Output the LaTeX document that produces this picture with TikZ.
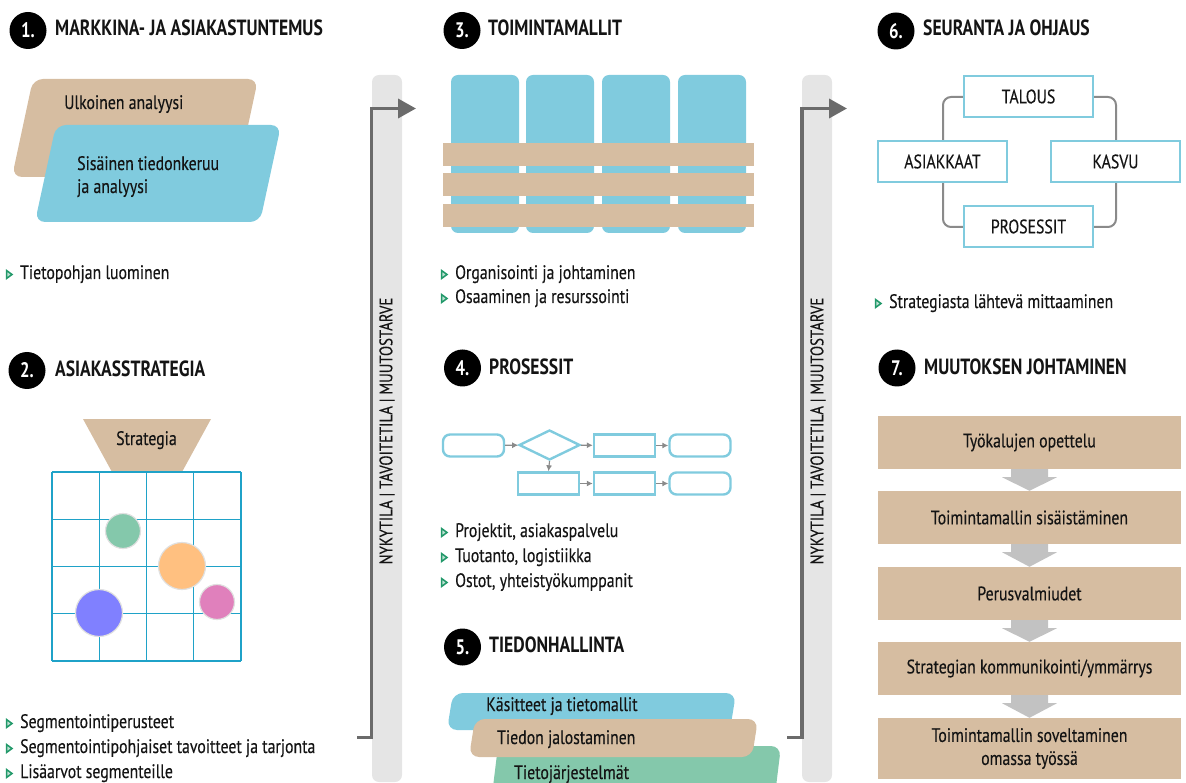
\documentclass[tikz,border=0pt]{standalone}
\usepackage{fontspec}
\setmainfont{PT Sans}[FakeStretch=0.81, UprightFeatures={FakeBold=0.25}, BoldFeatures={FakeStretch=0.80}]
\usetikzlibrary{arrows.meta,shapes.geometric,calc}

\definecolor{tan}{HTML}{D6BDA1}
\definecolor{sky}{HTML}{80CBDE}
\definecolor{mint}{HTML}{84C8AB}
\definecolor{peach}{HTML}{FFC080}
\definecolor{rose}{HTML}{E080BC}
\definecolor{violet}{HTML}{8080FF}
\definecolor{gridblue}{HTML}{1FA2C8}
\definecolor{barbg}{HTML}{E5E5E5}
\definecolor{darkarrow}{HTML}{6B6B6B}
\definecolor{blockgray}{HTML}{C2C2C2}
\definecolor{bulgreen}{HTML}{22996A}
\definecolor{flowgray}{HTML}{8A8A8A}
\definecolor{ink}{HTML}{141414}

\begin{document}
\begin{tikzpicture}[x=1pt,y=-1pt,
  badge/.style={circle, fill=black, minimum size=37pt, inner sep=0pt, text=white,
    font=\fontsize{21}{21}\selectfont\bfseries},
  head/.style={anchor=base west, inner sep=0pt, text=ink,
    font=\fontsize{22}{25}\selectfont\bfseries},
  body/.style={text=ink, font=\fontsize{19.5}{23}\selectfont},
  bulmark/.style={isosceles triangle, isosceles triangle stretches,
    minimum width=8pt, minimum height=5.5pt, inner sep=0pt,
    draw=bulgreen, line width=1.5pt, fill=bulgreen!30, label distance=6pt},
  item/.style={body, anchor=base west, inner sep=0pt, text height=13pt, text depth=4pt,
    label={[bulmark]left:{}}},
  plain/.style={body, anchor=base west, inner sep=0pt},
  seg/.style={circle, inner sep=0pt, minimum size=#1, draw=black!12, line width=1.2pt},
  flowbox/.style={draw=sky, line width=2.4pt, minimum width=61pt, minimum height=22pt, inner sep=0pt},
  flowround/.style={flowbox, rounded corners=7pt},
  flowdia/.style={diamond, draw=sky, line width=2.4pt, minimum width=61pt, minimum height=30pt, inner sep=0pt},
  flowarrow/.style={draw=flowgray, line width=1.1pt, -{Latex[length=6pt,width=6pt]}},
  kpi/.style={body, draw=sky, line width=2.4pt, fill=white, minimum width=129pt, minimum height=41pt, inner sep=0pt},
  stepbox/.style={body, fill=tan, minimum width=303pt, minimum height=53pt, inner sep=0pt, align=center},
  bigarrow/.style={draw=darkarrow, line width=3.6pt, -{Triangle[length=18pt,width=19pt]}},
  sidebar/.style={fill=barbg, rounded corners=7pt},
  vlabel/.style={body, rotate=90, font=\fontsize{18.3}{20}\selectfont}
]
\useasboundingbox (0,0) rectangle (1186,783);

% ---------- side bars with the state arrows ----------
\fill[sidebar] (372,75) rectangle (402,782);
\fill[sidebar] (802,75) rectangle (832,782);
\coordinate (ls) at (357,737.5);
\coordinate (le) at (416,108.5);
\coordinate (rs) at (787,737.5);
\coordinate (re) at (847,108.5);
\draw[bigarrow] (ls) -- ++(14.5,0) |- (le);
\draw[bigarrow] (rs) -- ++(15,0) |- (re);
\node[vlabel] (lv) at (387,431) {NYKYTILA | TAVOITETILA | MUUTOSTARVE};
\node[vlabel] (rv) at (818,431) {NYKYTILA | TAVOITETILA | MUUTOSTARVE};

% ---------- 1. market and customer knowledge ----------
\node[badge] (b1) at (28,30.5) {1.};
\node[head] (h1) at (55,36) {MARKKINA- JA ASIAKASTUNTEMUS};
\fill[tan, rounded corners=10pt] (12,177) -- (33,79) -- (258,79) -- (237,177) -- cycle;
\fill[sky, rounded corners=10pt] (35,222) -- (56,125) -- (281,125) -- (260,222) -- cycle;
\node[plain] (t11) at (64,109) {Ulkoinen analyysi};
\node[plain] (t12) at (77,170) {Sisäinen tiedonkeruu};
\node[plain] (t13) at (77,193) {ja analyysi};
\node[item] (i11) at (20,279) {Tietopohjan luominen};

% ---------- 2. customer strategy ----------
\node[badge] (b2) at (27,370.5) {2.};
\node[head] (h2) at (55,377) {ASIAKASSTRATEGIA};
\fill[tan] (83,419) -- (211,419) -- (182,472) -- (112,472) -- cycle;
\node[body, anchor=base, inner sep=0pt] (t21) at (146.5,445) {Strategia};
\foreach \k in {0,...,4}{
  \draw[gridblue, line width=1.4pt] ({52+47.25*\k},472) -- ({52+47.25*\k},661);
  \draw[gridblue, line width=1.4pt] (52,{472+47.25*\k}) -- (241,{472+47.25*\k});
}
\node[seg=35pt, fill=mint] (c1) at (123,531) {};
\node[seg=47pt, fill=peach] (c2) at (182,566) {};
\node[seg=35pt, fill=rose] (c3) at (217,602) {};
\node[seg=47pt, fill=violet] (c4) at (99,613) {};
\node[item] (i21) at (20,728) {Segmentointiperusteet};
\node[item] (i22) at (20,753) {Segmentointipohjaiset tavoitteet ja tarjonta};
\node[item] (i23) at (20,778) {Lisäarvot segmenteille};

% ---------- 3. operating models ----------
\node[badge] (b3) at (462,30.5) {3.};
\node[head] (h3) at (488,36) {TOIMINTAMALLIT};
\foreach \xa in {451,526,602,678}{
  \fill[sky, rounded corners=7pt] (\xa,75) rectangle ({\xa+68},233);
}
\foreach \ya in {143,173,204}{
  \fill[tan] (443,\ya) rectangle (754,{\ya+23});
}
\node[item] (i31) at (455,279) {Organisointi ja johtaminen};
\node[item] (i32) at (455,303) {Osaaminen ja resurssointi};

% ---------- 4. processes ----------
\node[badge] (b4) at (462.5,368) {4.};
\node[head] (h4) at (489,375) {PROSESSIT};
\node[flowround] (f1) at (473.5,445.5) {};
\node[flowdia]   (f2) at (549.5,445) {};
\node[flowbox]   (f3) at (624.5,445.5) {};
\node[flowround] (f4) at (700,445.5) {};
\node[flowbox]   (f5) at (548.5,483.5) {};
\node[flowbox]   (f6) at (624.5,483.5) {};
\node[flowround] (f7) at (700,483.5) {};
\draw[flowarrow] (f1) -- (f2);
\draw[flowarrow] (f2) -- (f3);
\draw[flowarrow] (f3) -- (f4);
\draw[flowarrow] (f2.south) -- (f5.north);
\draw[flowarrow] (f5) -- (f6);
\draw[flowarrow] (f6) -- (f7);
\node[item] (i41) at (455,537) {Projektit, asiakaspalvelu};
\node[item] (i42) at (455,562) {Tuotanto, logistiikka};
\node[item] (i43) at (455,587) {Ostot, yhteistyökumppanit};

% ---------- 5. information management ----------
\node[badge] (b5) at (462.5,647) {5.};
\node[head] (h5) at (489,652) {TIEDONHALLINTA};
\fill[sky, rounded corners=10pt] (447,730) -- (453,693) -- (736,693) -- (730,730) -- cycle;
\fill[mint, rounded corners=10pt] (492,795) -- (498,746) -- (781,746) -- (775,795) -- cycle;
\fill[tan, rounded corners=10pt] (469,757) -- (475,719) -- (758,719) -- (752,757) -- cycle;
\node[plain] (t51) at (486,711) {Käsitteet ja tietomallit};
\node[plain] (t52) at (497,744) {Tiedon jalostaminen};
\node[plain] (t53) at (514,779) {Tietojärjestelmät};

% ---------- 6. monitoring and steering ----------
\node[badge] (b6) at (896,31) {6.};
\node[head] (h6) at (923,36) {SEURANTA JA OHJAUS};
\draw[flowgray, line width=2pt, rounded corners=8pt]
  (963,97) -| (943,140)
  (943,183) |- (963,227)
  (1094,227) -| (1116,183)
  (1116,140) |- (1094,97);
\node[kpi] (k1) at (1028.5,96.5) {TALOUS};
\node[kpi] (k2) at (942.5,161.5) {ASIAKKAAT};
\node[kpi] (k3) at (1115.5,161.5) {KASVU};
\node[kpi] (k4) at (1028.5,226.5) {PROSESSIT};
\node[item] (i61) at (889,308) {Strategiasta lähtevä mittaaminen};

% ---------- 7. change management ----------
\node[badge] (b7) at (897,368) {7.};
\node[head] (h7) at (924,375) {MUUTOKSEN JOHTAMINEN};
\node[stepbox] (m1) at (1029.5,442.5) {Työkalujen opettelu};
\node[stepbox] (m2) at (1029.5,517.5) {Toimintamallin sisäistäminen};
\node[stepbox] (m3) at (1029.5,593.5) {Perusvalmiudet};
\node[stepbox] (m4) at (1029.5,668.5) {Strategian kommunikointi/ymmärrys};
\node[stepbox, minimum height=61pt] (m5) at (1029.5,748.5) {Toimintamallin soveltaminen\\omassa työssä};
\foreach \i/\j in {1/2,2/3,3/4,4/5}{
  \fill[blockgray] ($(m\i.south)+(-18.5,0)$) -- ($(m\i.south)+(18.5,0)$) -- ($(m\i.south)+(18.5,8)$)
    -- ($(m\i.south)+(27.5,8)$) -- (m\j.north) -- ($(m\i.south)+(-27.5,8)$)
    -- ($(m\i.south)+(-18.5,8)$) -- cycle;
}
\end{tikzpicture}
\end{document}
